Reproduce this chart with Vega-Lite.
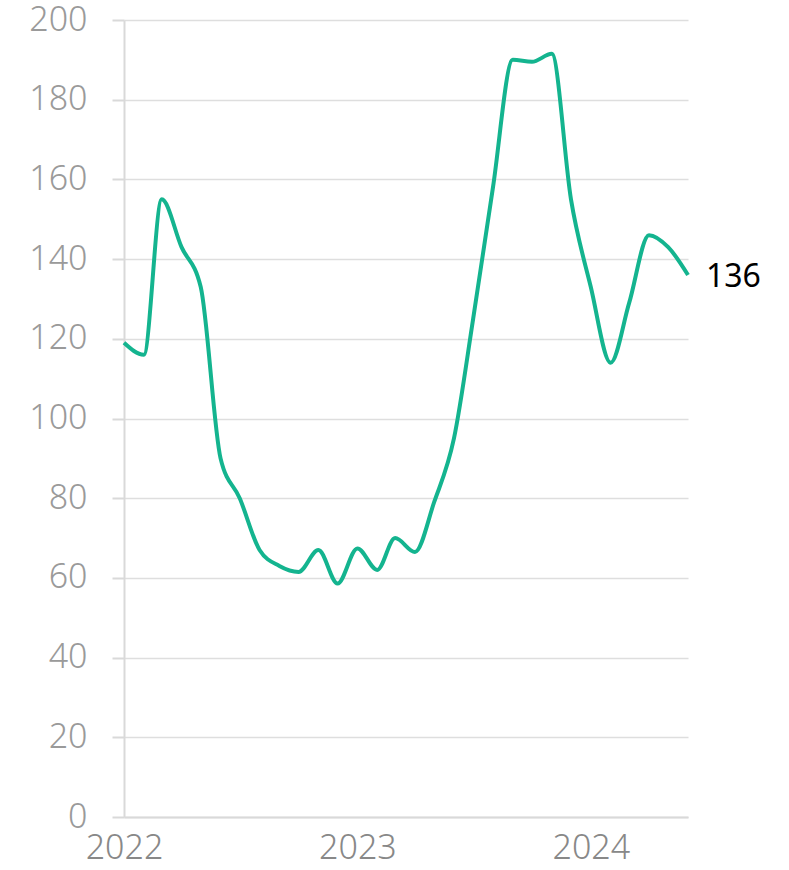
{
  "$schema": "https://vega.github.io/schema/vega-lite/v6.json",
  "autosize": "none",
  "width": 564,
  "height": 797,
  "padding": {"left": 124, "top": 20, "right": 101, "bottom": 53},
  "background": "white",
  "config": {"view": {"stroke": null}, "font": "Noto Sans"},
  "data": {
    "values": [
      {"date": "2022-01-01", "value": 119},
      {"date": "2022-02-01", "value": 116},
      {"date": "2022-03-01", "value": 155},
      {"date": "2022-04-01", "value": 143},
      {"date": "2022-05-01", "value": 133},
      {"date": "2022-06-01", "value": 90},
      {"date": "2022-07-01", "value": 80},
      {"date": "2022-08-01", "value": 67},
      {"date": "2022-09-01", "value": 63},
      {"date": "2022-10-01", "value": 61.5},
      {"date": "2022-11-01", "value": 67},
      {"date": "2022-12-01", "value": 58.6},
      {"date": "2023-01-01", "value": 67.4},
      {"date": "2023-02-01", "value": 62},
      {"date": "2023-03-01", "value": 70},
      {"date": "2023-04-01", "value": 66.5},
      {"date": "2023-05-01", "value": 79},
      {"date": "2023-06-01", "value": 95},
      {"date": "2023-07-01", "value": 125},
      {"date": "2023-08-01", "value": 158},
      {"date": "2023-09-01", "value": 190},
      {"date": "2023-10-01", "value": 189.5},
      {"date": "2023-11-01", "value": 191.5},
      {"date": "2023-12-01", "value": 155},
      {"date": "2024-01-01", "value": 133},
      {"date": "2024-02-01", "value": 114},
      {"date": "2024-03-01", "value": 129},
      {"date": "2024-04-01", "value": 146},
      {"date": "2024-05-01", "value": 143},
      {"date": "2024-06-01", "value": 136}
    ]
  },
  "encoding": {
    "x": {
      "field": "date",
      "type": "temporal",
      "scale": {
        "type": "utc",
        "domain": [{"year": 2022, "month": 1, "date": 1, "utc": true}, {"year": 2024, "month": 6, "date": 1, "utc": true}]
      },
      "axis": {
        "title": null,
        "values": [{"year": 2022, "month": 1, "date": 1, "utc": true}, {"year": 2023, "month": 1, "date": 1, "utc": true}, {"year": 2024, "month": 1, "date": 1, "utc": true}],
        "format": "%Y",
        "grid": false,
        "ticks": false,
        "domainColor": "#d9d9d9",
        "domainWidth": 2,
        "labelFontSize": 34,
        "labelFontWeight": 300,
        "labelColor": "#888888",
        "labelPadding": 14,
        "labelFlush": false,
        "labelOverlap": false,
        "labelFont": "Noto Sans"
      }
    },
    "y": {
      "field": "value",
      "type": "quantitative",
      "scale": {"domain": [0, 200], "nice": false},
      "axis": {
        "title": null,
        "values": [0, 20, 40, 60, 80, 100, 120, 140, 160, 180, 200],
        "grid": true,
        "gridColor": "#dedede",
        "gridWidth": 1.5,
        "domainColor": "#d9d9d9",
        "domainWidth": 2,
        "tickColor": "#d9d9d9",
        "tickWidth": 2,
        "tickSize": 12,
        "labelFontSize": 34,
        "labelFontWeight": 300,
        "labelColor": "#9a9a9a",
        "labelPadding": 25,
        "labelFont": "Noto Sans"
      }
    }
  },
  "layer": [
    {
      "mark": {"type": "line", "interpolate": "monotone", "color": "#14b48f", "strokeWidth": 4}
    },
    {
      "transform": [{"filter": "utcyear(datum.date) == 2024 && utcmonth(datum.date) == 5"}],
      "mark": {"type": "text", "align": "left", "baseline": "middle", "dx": 18, "dy": 2, "fontSize": 32, "fontWeight": 400, "color": "#000000", "font": "Noto Sans"},
      "encoding": {"text": {"field": "value", "type": "quantitative"}}
    }
  ]
}
